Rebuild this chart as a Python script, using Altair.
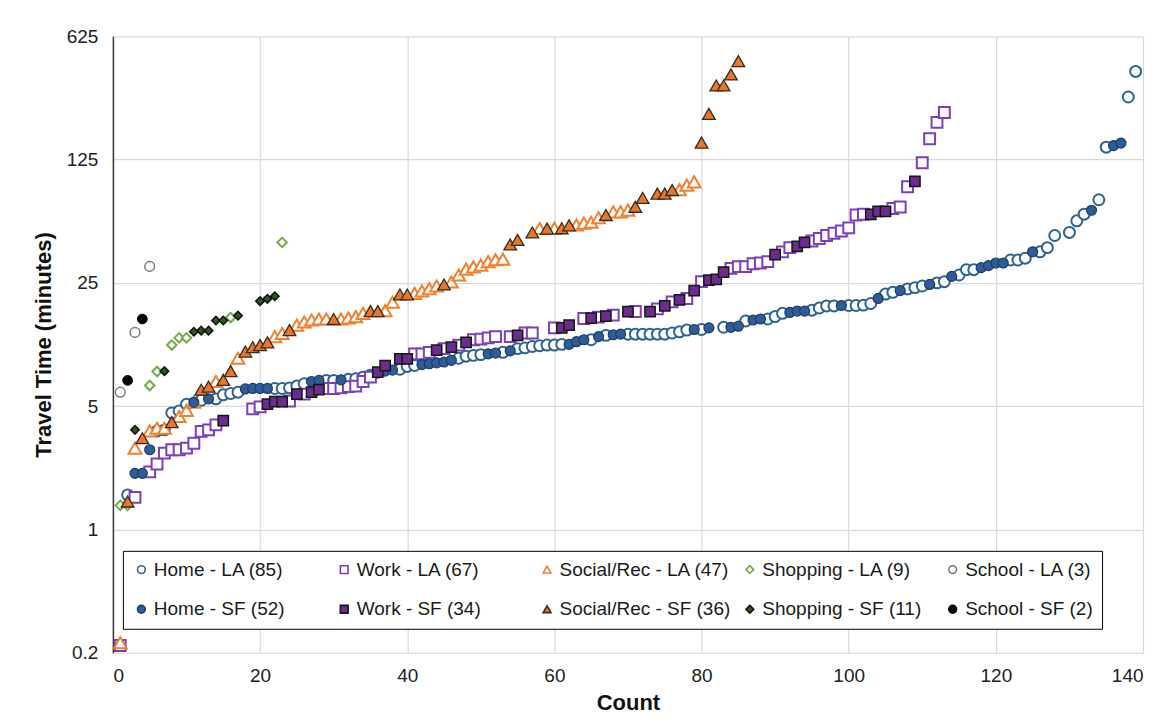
import altair as alt
import pandas as pd

# ---------------- data (x = Count rank, y = travel time in minutes) ----------------
home_la_x = [2, 6, 7, 8, 9, 10, 12, 14, 15, 16, 17, 22, 23, 24, 25, 26, 29, 30, 32, 33, 34, 35,
             39, 40, 41, 47, 48, 49, 50, 53, 55, 56, 57, 58, 59, 60, 61, 65, 67, 70, 71, 72, 73,
             74, 75, 76, 77, 78, 80, 83, 86, 89, 90, 91, 95, 96, 97, 98, 100, 101, 102, 103, 105,
             106, 108, 109, 110, 112, 113, 115, 116, 117, 122, 123, 124, 126, 127, 128, 130, 131,
             132, 134, 135, 138, 139]
home_la_y = [1.57, 3.62, 3.67, 4.58, 4.7, 5.13, 5.4, 5.5, 5.8, 5.9, 6.0, 6.3, 6.3, 6.35, 6.5, 6.7,
             7.0, 7.0, 7.1, 7.15, 7.3, 7.5, 8.1, 8.4, 8.5, 9.35, 9.6, 9.7, 9.8, 10.1, 10.6, 10.7,
             10.9, 11.0, 11.1, 11.1, 11.2, 11.9, 12.6, 12.8, 12.8, 12.8, 12.8, 12.8, 12.8, 13.0,
             13.2, 13.5, 13.6, 14.0, 15.2, 15.6, 16.1, 16.8, 17.5, 18.0, 18.5, 18.5, 18.6, 18.6,
             18.7, 19.1, 21.6, 22.1, 23.1, 23.5, 24.0, 25.0, 25.4, 27.7, 29.7, 29.7, 33.7, 33.7,
             34.5, 37.5, 39.6, 46.4, 48.3, 56.2, 61.3, 74, 147, 283, 395]

home_sf_x = [3, 4, 5, 11, 13, 18, 19, 20, 21, 27, 28, 31, 36, 37, 38, 42, 43, 44, 45, 46, 51, 52,
             54, 62, 63, 64, 66, 68, 69, 79, 81, 84, 85, 87, 88, 92, 93, 94, 99, 104, 107, 111,
             114, 118, 119, 120, 121, 125, 133, 136, 137]
home_sf_y = [2.08, 2.08, 2.83, 5.26, 5.5, 6.26, 6.3, 6.3, 6.3, 6.9, 7.0, 7.05, 7.7, 7.9, 8.0, 8.6,
             8.7, 8.8, 8.9, 9.1, 9.9, 10.0, 10.3, 11.2, 11.6, 11.9, 12.4, 12.7, 12.8, 13.6, 13.9,
             14.0, 14.2, 15.4, 15.6, 17.0, 17.3, 17.3, 18.6, 20.4, 22.6, 24.5, 27.2, 30.5, 31.3,
             32.4, 32.4, 37.5, 64.5, 150, 155]

work_la_x = [1, 3, 5, 6, 7, 8, 9, 10, 11, 12, 13, 14, 19, 20, 24, 26, 29, 30, 31, 32, 33, 34, 35,
             41, 42, 43, 45, 47, 49, 50, 51, 52, 54, 56, 57, 60, 64, 66, 68, 71, 74, 76, 78, 80,
             84, 85, 86, 87, 88, 89, 91, 92, 95, 96, 97, 98, 99, 100, 101, 102, 106, 107, 108,
             110, 111, 112, 113]
work_la_y = [0.22, 1.52, 2.12, 2.35, 2.71, 2.83, 2.83, 2.89, 3.08, 3.6, 3.67, 3.92, 4.83, 4.95,
             5.35, 5.85, 6.3, 6.3, 6.35, 6.45, 6.5, 6.9, 7.3, 9.9, 9.9, 10.1, 10.6, 11.1, 11.9,
             12.0, 12.2, 12.4, 12.4, 13.0, 13.0, 13.9, 15.7, 16.0, 16.4, 17.2, 17.8, 19.5, 20.4,
             25.4, 30.2, 30.9, 30.9, 32.1, 32.4, 33.0, 37.5, 39.6, 43.2, 44.6, 46.4, 47.8, 49.2,
             51.3, 60.6, 61.2, 66, 67.3, 87.7, 120, 164, 203, 231]

work_sf_x = [15, 21, 22, 23, 25, 27, 28, 36, 37, 39, 40, 44, 46, 48, 55, 61, 62, 65, 67, 70, 73,
             75, 77, 79, 81, 82, 83, 90, 93, 94, 103, 104, 105, 109]
work_sf_y = [4.14, 5.13, 5.3, 5.3, 5.85, 6.0, 6.2, 7.8, 8.5, 9.27, 9.27, 10.4, 10.8, 11.5, 12.6,
             13.9, 14.4, 15.8, 16.2, 17.2, 17.2, 18.5, 20.0, 22.6, 25.9, 26.2, 28.8, 36.2, 40.2,
             42.4, 61.2, 63.5, 63.5, 94]

social_la_x = [1, 3, 5, 6, 7, 9, 10, 11, 14, 17, 22, 23, 25, 26, 27, 28, 29, 31, 32, 33, 34, 37,
               38, 41, 42, 43, 44, 46, 47, 48, 49, 50, 51, 52, 53, 58, 60, 63, 64, 65, 66, 68, 69,
               70, 77, 78, 79]
social_la_y = [0.228, 2.89, 3.62, 3.75, 3.75, 4.37, 4.73, 5.27, 6.9, 9.35, 12.4, 12.9, 14.4, 15.0,
               15.4, 15.6, 15.6, 15.6, 15.8, 16.1, 16.8, 17.4, 19.4, 21.8, 22.5, 23.2, 24.0, 25.3,
               27.7, 29.9, 30.8, 31.5, 33.0, 33.8, 34.1, 50.8, 50.9, 53.2, 54.5, 55.2, 58.5, 63.2,
               63.2, 64.6, 84.5, 89.6, 93.5]

social_sf_x = [2, 4, 8, 12, 13, 15, 16, 18, 19, 20, 21, 24, 30, 35, 36, 39, 40, 45, 54, 55, 57,
               59, 61, 62, 67, 71, 72, 74, 75, 76, 80, 81, 82, 83, 84, 85]
social_sf_y = [1.44, 3.29, 4.06, 6.2, 6.45, 7.05, 7.9, 10.2, 10.8, 11.1, 11.5, 13.5, 15.6, 17.3,
               17.3, 21.5, 21.5, 24.5, 41.3, 43.8, 48.3, 50.8, 51.0, 53.0, 60.6, 67.5, 75.8, 80.2,
               80.2, 84, 156, 227, 329, 329, 380, 452]

shopping_la_x = [1, 2, 5, 6, 8, 9, 10, 16, 23]
shopping_la_y = [1.37, 1.37, 6.55, 7.86, 11.1, 12.2, 12.2, 15.9, 42.4]

shopping_sf_x = [3, 7, 11, 12, 13, 14, 15, 17, 20, 21, 22]
shopping_sf_y = [3.67, 7.9, 13.2, 13.4, 13.4, 15.3, 15.3, 16.3, 19.7, 20.3, 21.0]

school_la_x = [1, 3, 5]
school_la_y = [6.0, 13.1, 31]

school_sf_x = [2, 4]
school_sf_y = [7.0, 15.6]

series_names = ["Home - LA (85)", "Work - LA (67)", "Social/Rec - LA (47)", "Shopping - LA (9)",
                "School - LA (3)", "Home - SF (52)", "Work - SF (34)", "Social/Rec - SF (36)",
                "Shopping - SF (11)", "School - SF (2)"]
y_ticks = [0.2, 1, 5, 25, 125, 625]
x_ticks = [0, 20, 40, 60, 80, 100, 120, 140]

# ---------------- styles ----------------
shapes = ["circle", "square", "triangle-up", "diamond", "circle",
          "circle", "square", "triangle-up", "diamond", "circle"]
fills = ["#ffffff", "#ffffff", "#ffffff", "#ffffff", "#ffffff",
         "#2F5C98", "#6A2C8E", "#E8772E", "#2E5A1E", "#000000"]
strokes = ["#2D6494", "#7C3FBE", "#F2802F", "#70AD47", "#7A7A7A",
           "#1E3D63", "#161616", "#3A2A1C", "#111111", "#000000"]
sizes = [120, 118, 165, 90, 95, 100, 105, 160, 72, 95]
stroke_widths = [2, 2, 2, 2, 1.5, 1.2, 1.5, 1.3, 1.5, 1]

pairs = [
    (home_la_x, home_la_y), (work_la_x, work_la_y), (social_la_x, social_la_y),
    (shopping_la_x, shopping_la_y), (school_la_x, school_la_y),
    (home_sf_x, home_sf_y), (work_sf_x, work_sf_y), (social_sf_x, social_sf_y),
    (shopping_sf_x, shopping_sf_y), (school_sf_x, school_sf_y),
]

rows = []
order = 0
for i, (name, (xs, ys)) in enumerate(zip(series_names, pairs)):
    for xv, yv in zip(xs, ys):
        rows.append({"series": name, "count": xv, "time": yv, "ord": order,
                     "sz": sizes[i], "sw": stroke_widths[i]})
        order += 1
df = pd.DataFrame(rows)

FONT = "Liberation Sans"

legend = alt.Legend(
    orient="none", legendX=10, legendY=515, direction="horizontal", columns=5,
    title=None, labelFont=FONT, labelFontSize=19, labelColor="#1a1a1a", labelLimit=400,
    symbolSize=60, symbolStrokeWidth=1.6, strokeColor="#000000", fillColor="#ffffff",
    padding=9, rowPadding=20, columnPadding=9, gridAlign="all", labelOffset=3,
)

chart = alt.Chart(df).mark_point(filled=True, opacity=1, fillOpacity=1, strokeOpacity=1).encode(
    x=alt.X("count:Q", scale=alt.Scale(domain=[0, 140], nice=False, zero=False),
            axis=alt.Axis(values=x_ticks, title="Count", grid=True, gridColor="#D9D9D9",
                          gridWidth=1.2, domain=False, ticks=False, labelFont=FONT,
                          labelFontSize=19, labelColor="#222222", labelPadding=14,
                          titleFont=FONT, titleFontSize=22, titleFontWeight="bold",
                          titleColor="#111111", titlePadding=7)),
    y=alt.Y("time:Q", scale=alt.Scale(type="log", base=5, domain=[0.2, 625], nice=False),
            axis=alt.Axis(values=y_ticks, format="~g", title="Travel Time (minutes)",
                          grid=True, gridColor="#D9D9D9", gridWidth=1.2, domain=True,
                          domainColor="#3a3a3a", domainWidth=1.5, ticks=False,
                          labelFont=FONT, labelFontSize=19, labelColor="#222222",
                          labelPadding=15, titleFont=FONT, titleFontSize=22,
                          titleFontWeight="bold", titleColor="#111111", titlePadding=11)),
    fill=alt.Fill("series:N", scale=alt.Scale(domain=series_names, range=fills), legend=legend),
    stroke=alt.Stroke("series:N", scale=alt.Scale(domain=series_names, range=strokes)),
    shape=alt.Shape("series:N", scale=alt.Scale(domain=series_names, range=shapes)),
    size=alt.Size("sz:Q", scale=None),
    strokeWidth=alt.StrokeWidth("sw:Q", scale=None),
    order=alt.Order("ord:Q"),
).properties(
    width=1031, height=617,
    autosize=alt.AutoSizeParams(type="none"),
    padding={"left": 105, "top": 28, "right": 20, "bottom": 80},
    background="#ffffff",
).configure_view(stroke=None)

chart.save("out.html", embed_options={"renderer": "svg", "actions": False})
